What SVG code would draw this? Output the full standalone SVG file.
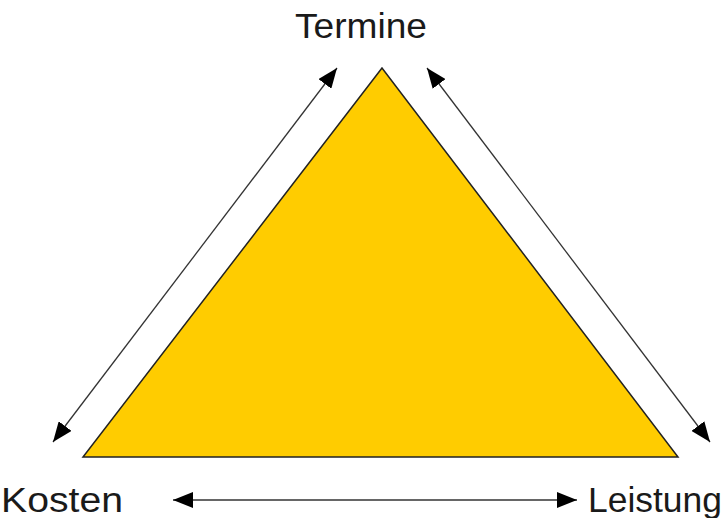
<svg xmlns="http://www.w3.org/2000/svg" width="724" height="518" viewBox="0 0 724 518">
<style>
.lbl{font-family:"Liberation Sans",Arial,sans-serif;font-size:35px;fill:#1a1a1a}
.con{stroke:#333;stroke-width:1.3;fill:none}
</style>
<defs>
<marker id="ah" viewBox="0 0 20 16" refX="20" refY="8" markerWidth="20" markerHeight="16" markerUnits="userSpaceOnUse" orient="auto-start-reverse">
<path d="M0,0 L20,8 L0,16 Z" fill="#000"/>
</marker>
</defs>
<rect width="724" height="518" fill="#fff"/>
<g id="triangle">
<polygon points="382,68 83,457 678,457" fill="#ffcc00" stroke="#222" stroke-width="1.5"/>
</g>
<g id="connectors">
<line class="con" x1="337" y1="68" x2="53" y2="442" marker-start="url(#ah)" marker-end="url(#ah)"/>
<line class="con" x1="427" y1="68" x2="710" y2="442" marker-start="url(#ah)" marker-end="url(#ah)"/>
<line class="con" x1="173" y1="500" x2="577" y2="500" marker-start="url(#ah)" marker-end="url(#ah)"/>
</g>
<g id="node-termine"><text class="lbl" x="361" y="38" text-anchor="middle" textLength="132" lengthAdjust="spacingAndGlyphs">Termine</text></g>
<g id="node-kosten"><text class="lbl" x="1" y="512" textLength="122" lengthAdjust="spacingAndGlyphs">Kosten</text></g>
<g id="node-leistung"><text class="lbl" x="588" y="512" textLength="134" lengthAdjust="spacingAndGlyphs">Leistung</text></g>
</svg>
